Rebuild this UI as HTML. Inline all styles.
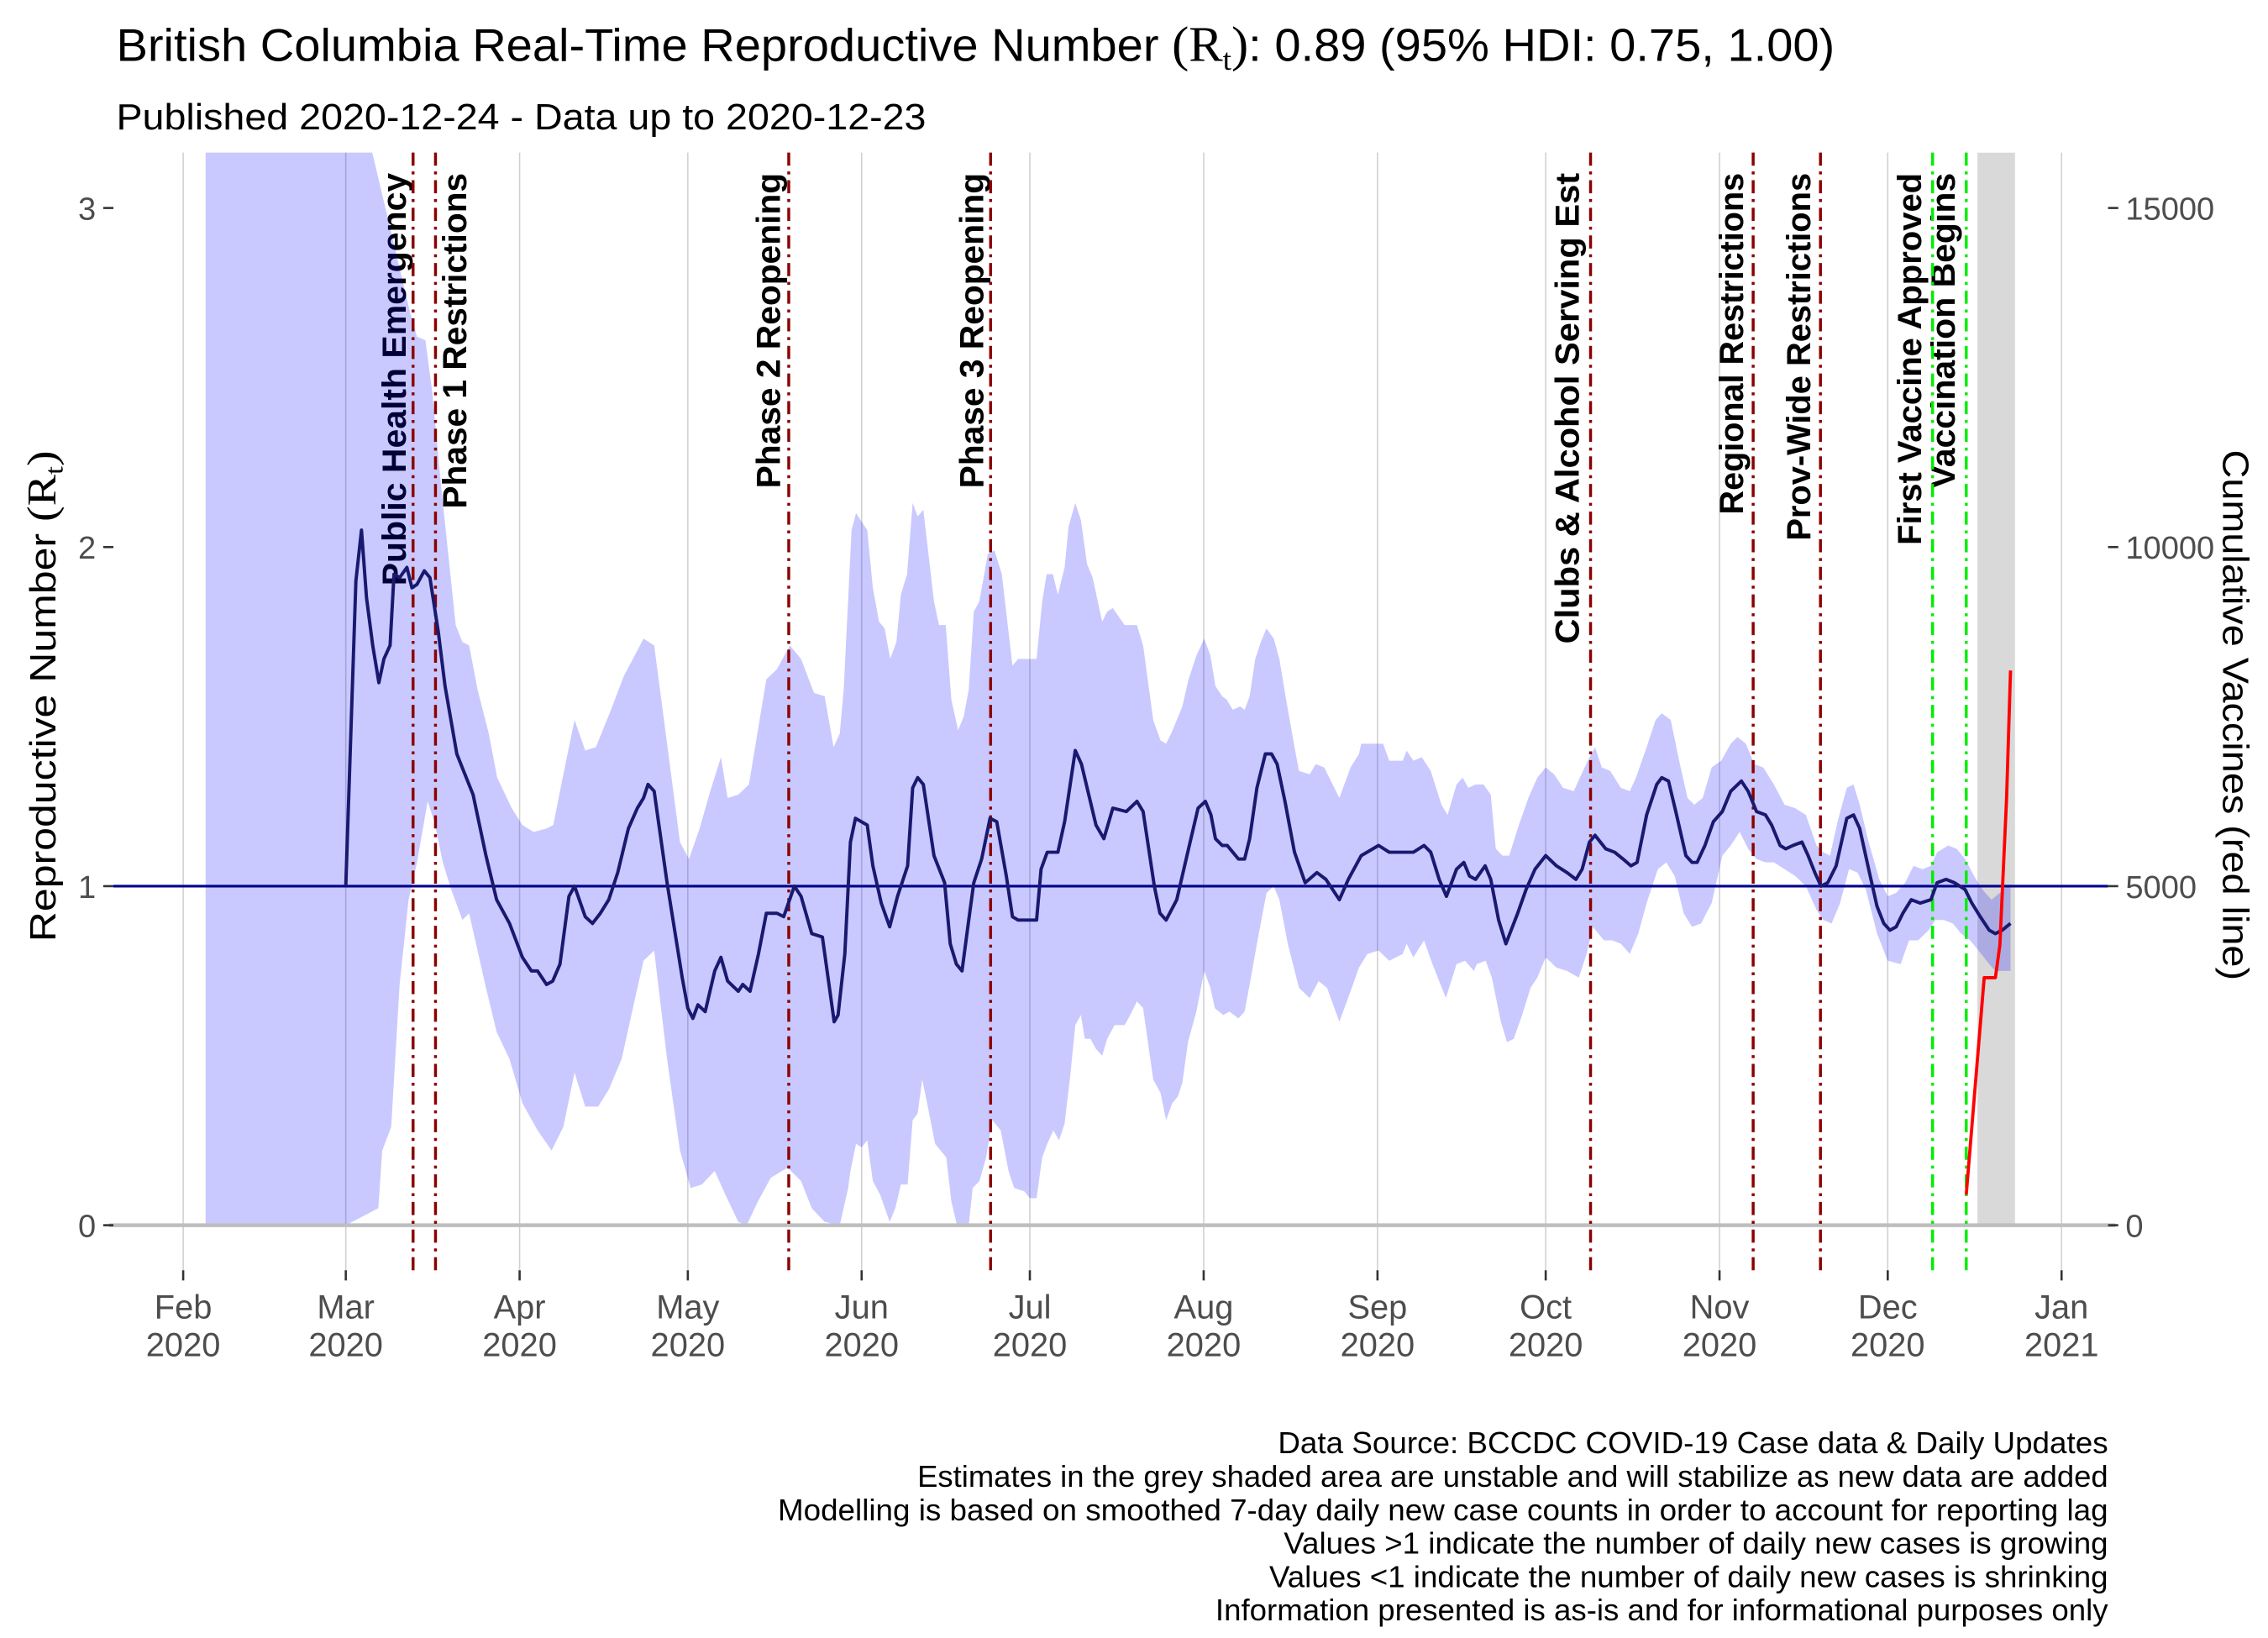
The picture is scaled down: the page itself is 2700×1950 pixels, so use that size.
<!DOCTYPE html>
<html><head><meta charset="utf-8"><style>
html,body{margin:0;padding:0;background:#fff;}
svg{display:block;}
text{font-family:"Liberation Sans",Arial,sans-serif;}
</style></head><body>
<svg id="chart" width="2700" height="1950" viewBox="0 0 1560 1127" preserveAspectRatio="none" xmlns="http://www.w3.org/2000/svg">
<defs><clipPath id="panel"><rect x="78" y="105" width="1372" height="770"/></clipPath></defs>
<rect x="0" y="0" width="1560" height="1127" fill="#fff"/>
<text x="80" y="42" font-size="31.5" fill="#000" textLength="1182" lengthAdjust="spacingAndGlyphs">British Columbia Real-Time Reproductive Number <tspan font-family="Liberation Serif,serif" font-size="34">(R<tspan font-size="21" dy="6">t</tspan><tspan dy="-6">)</tspan></tspan>:  0.89 (95% HDI: 0.75, 1.00)</text>
<text x="80" y="89" font-size="25" fill="#000" textLength="557" lengthAdjust="spacingAndGlyphs">Published 2020-12-24 - Data up to 2020-12-23</text>
<g id="grid"></g>
<g id="events-labels"></g>
<g id="plot" clip-path="url(#panel)"></g>
<g id="axes"></g>
<text transform="translate(38,479) rotate(-90)" text-anchor="middle" font-size="25" fill="#000" textLength="338" lengthAdjust="spacingAndGlyphs">Reproductive Number <tspan font-family="Liberation Serif,serif" font-size="28">(R<tspan font-size="18" dy="5">t</tspan><tspan dy="-5">)</tspan></tspan></text>
<text transform="translate(1529,492) rotate(90)" text-anchor="middle" font-size="25" fill="#000" textLength="365" lengthAdjust="spacingAndGlyphs">Cumulative Vaccines (red line)</text>
<g font-size="21" fill="#000" text-anchor="end">
<text x="1450" y="1000" textLength="571" lengthAdjust="spacingAndGlyphs">Data Source: BCCDC COVID-19 Case data &amp; Daily Updates</text>
<text x="1450" y="1023" textLength="819" lengthAdjust="spacingAndGlyphs">Estimates in the grey shaded area are unstable and will stabilize as new data are added</text>
<text x="1450" y="1046" textLength="915" lengthAdjust="spacingAndGlyphs">Modelling is based on smoothed 7-day daily new case counts in order to account for reporting lag</text>
<text x="1450" y="1069" textLength="567" lengthAdjust="spacingAndGlyphs">Values &gt;1 indicate the number of daily new cases is growing</text>
<text x="1450" y="1092" textLength="577" lengthAdjust="spacingAndGlyphs">Values &lt;1 indicate the number of daily new cases is shrinking</text>
<text x="1450" y="1115" textLength="614" lengthAdjust="spacingAndGlyphs">Information presented is as-is and for informational purposes only</text>
</g>
</svg>
<script>
// ---- data (day-of-year 2020, Jan 1 = 0) ----
const rtDays = [60,61.8,62.8,63.7,64.8,65.9,66.8,67.9,68.6,69.6,70.9,71.8,72.7,74,75,76.5,77.7,79.8,81,82.7,85,86.9,89.2,91.5,93.1,94.2,95.8,96.9,98.2,99.8,100.8,102.7,104,105.4,106.9,108.5,110.4,112,113.1,113.9,115,117.3,120,121,121.9,122.8,124.1,125.8,126.9,128.1,130,130.8,132.1,133.6,135,136.9,138.1,140,141.2,143.1,145,147.1,147.8,149,150,150.9,153,154,155.5,157,158.4,160.2,161.1,162,163,164.9,166.8,167.8,168.9,169.9,171.1,172,173.4,174.9,176.1,177.8,178.9,179.9,183.2,184,185.1,187,188.2,190.1,191.2,193.8,195.2,196.8,199.2,201.1,202.2,204.2,205.2,206.3,208.2,210.3,212,213.3,214.3,215.1,216.3,217.2,219.2,220.3,221.2,222.5,224,225.1,226.1,227.5,229.2,231.1,233.2,234.8,237.2,238.8,241.1,244.2,246.1,250.4,252.3,253.5,255,256.3,258.1,259.4,260.4,261.5,263.2,264.2,265.6,266.9,269,270.5,272.1,274,275.9,277.8,279.4,280.5,281.8,282.8,284.7,286.3,287.8,289.2,290.3,292,293.8,294.7,295.9,297.2,299,300.1,301,302.4,303.9,305.5,307,308.9,310.1,311.6,313.2,314.3,315.8,316.8,318.1,319.7,320.8,322,323.1,324.3,325.8,327.7,328.9,330,331.6,333.1,334.3,335.4,336.5,337.7,339.2,340.8,342.7,343.8,345.4,346.9,348.8,350,351.5,353.1,354.2,355.4,356.9];
const rtValues = [1.0,1.90,2.05,1.85,1.71,1.60,1.67,1.71,1.92,1.91,1.94,1.88,1.89,1.93,1.91,1.75,1.59,1.39,1.34,1.27,1.09,0.96,0.89,0.79,0.75,0.75,0.71,0.72,0.77,0.97,1.0,0.91,0.89,0.92,0.96,1.04,1.17,1.23,1.26,1.30,1.28,1.01,0.73,0.64,0.61,0.65,0.63,0.75,0.79,0.72,0.69,0.71,0.69,0.80,0.92,0.92,0.91,1.0,0.97,0.86,0.85,0.60,0.62,0.80,1.13,1.20,1.18,1.06,0.95,0.88,0.97,1.06,1.29,1.32,1.30,1.09,1.01,0.83,0.77,0.75,0.90,1.01,1.08,1.20,1.19,1.03,0.91,0.90,0.90,1.05,1.10,1.10,1.19,1.40,1.36,1.18,1.14,1.23,1.22,1.25,1.22,1.0,0.92,0.90,0.96,1.11,1.23,1.25,1.21,1.14,1.12,1.12,1.08,1.08,1.14,1.29,1.39,1.39,1.36,1.25,1.10,1.01,1.04,1.02,0.96,1.02,1.09,1.12,1.10,1.10,1.12,1.10,1.02,0.97,1.05,1.07,1.03,1.02,1.06,1.02,0.90,0.83,0.92,0.99,1.05,1.09,1.06,1.04,1.02,1.05,1.13,1.15,1.11,1.10,1.08,1.06,1.07,1.21,1.30,1.32,1.31,1.22,1.09,1.07,1.07,1.12,1.19,1.22,1.28,1.31,1.28,1.22,1.21,1.18,1.12,1.11,1.12,1.13,1.09,1.04,1.0,1.01,1.06,1.20,1.21,1.17,1.05,0.94,0.89,0.87,0.88,0.92,0.96,0.95,0.96,1.01,1.02,1.01,0.99,0.95,0.91,0.87,0.86,0.87,0.89];
const upperDays = [35,64,64.2,71.5,72.7,74.2,75.4,77,79.6,80.8,82,83.5,85.5,87,89.6,91.5,93.5,95.8,97,98.8,100.8,102.7,104.6,107.3,109.6,111.2,113.1,115,117.7,119.6,121.2,123.1,125,126.9,128.1,130,131.9,133.5,135,136.9,139.2,141.2,143.5,145.4,147,148.1,148.8,150.2,151,153,154,155.1,156.1,157.1,158.2,159,160.1,161.1,162,163,164.9,165.8,167,168,169.2,170.2,171.1,172,173,174.5,175.7,177,178.9,179.9,183.2,184.2,185,186.1,187,188.2,188.9,190.1,191.1,192.2,193.2,194.9,195.8,196.8,198.9,201.1,202.2,204,205.3,206.3,207.2,209.2,210.3,211.7,213.1,214.2,215.1,216.3,217.1,218.2,219.5,220.3,221.2,222.2,223.2,224.2,225.5,226.5,227.6,229.2,230,231.9,233,234.5,235.7,237.2,239.2,240.7,241.1,243.4,245,246.1,248.5,249.2,250.4,251.9,253.5,255.4,256.5,258.1,259.2,260.2,261.5,262.9,264.2,265.1,266.3,267.5,269,270.9,272.5,274,275.5,277.1,279,280.1,281.5,282.8,284,285.5,287.4,289,290.1,292,293.6,294.7,296.3,297.8,299.3,300.5,302,303.6,305.3,307,308.2,309.7,311.2,312.8,314.7,316.6,318.5,320.4,322.3,323.5,324.7,326.2,327.7,328.9,330,331.6,333.5,335,336.5,338.1,339.6,341.2,342.7,343.8,345.8,347.3,348.8,350.4,351.9,353.5,355,356.2,356.9];
const upperValues = [3.5,3.5,3.2,2.69,2.62,2.61,2.46,2.18,1.77,1.72,1.71,1.58,1.45,1.32,1.23,1.18,1.16,1.17,1.18,1.33,1.49,1.40,1.41,1.52,1.62,1.67,1.73,1.71,1.37,1.13,1.08,1.17,1.28,1.38,1.26,1.27,1.30,1.46,1.61,1.64,1.71,1.67,1.57,1.56,1.41,1.45,1.58,2.05,2.10,2.05,1.88,1.78,1.76,1.67,1.72,1.86,1.92,2.13,2.09,2.11,1.84,1.77,1.77,1.55,1.46,1.50,1.58,1.81,1.84,1.98,1.99,1.92,1.65,1.67,1.67,1.84,1.92,1.92,1.86,1.94,2.06,2.13,2.08,1.95,1.91,1.78,1.81,1.82,1.77,1.77,1.71,1.49,1.43,1.42,1.45,1.53,1.61,1.68,1.73,1.68,1.59,1.56,1.55,1.52,1.53,1.52,1.56,1.67,1.72,1.76,1.73,1.67,1.56,1.41,1.34,1.33,1.36,1.35,1.31,1.26,1.35,1.39,1.42,1.42,1.42,1.37,1.37,1.40,1.37,1.38,1.34,1.24,1.21,1.30,1.32,1.29,1.30,1.30,1.27,1.11,1.09,1.09,1.17,1.26,1.32,1.35,1.33,1.29,1.28,1.32,1.37,1.41,1.35,1.34,1.29,1.28,1.32,1.41,1.49,1.51,1.49,1.37,1.26,1.24,1.26,1.35,1.37,1.42,1.44,1.42,1.36,1.35,1.30,1.24,1.23,1.21,1.12,1.10,1.09,1.20,1.29,1.30,1.24,1.13,1.02,0.97,0.98,1.01,1.06,1.05,1.06,1.10,1.12,1.11,1.08,1.03,0.99,0.96,0.98,1.0,1.0];
const lowerDays = [35,60,65.8,66.5,68.1,69.6,71.2,72.7,74.6,75.8,77.3,78.8,80.8,82,83.5,85,86.9,89.2,91.5,94.2,96.7,98.8,100.8,102.7,105,106.9,109.2,111.2,113.1,115,117.3,119.6,121.5,123.5,125.8,127.7,130,131.5,133.5,135.8,138.8,141.2,143.1,145.4,148.1,149.6,150,151,152,153,154,155.3,157,158,159,160.2,161.1,162,162.8,163.8,165.1,167.1,168,169,171.1,171.8,173,174.2,175.3,176.8,178.2,179.2,181,182,183.2,184.2,185.1,186.2,187.2,188.2,189.2,190.1,191.1,191.8,192.8,193.8,194.9,195.8,197.1,198.9,199.9,201.1,202.2,204,205.3,206.3,207.4,208.4,209.2,210.2,211.7,213.1,214.2,215,216.5,217.6,219.2,220.3,221.2,222.5,224.2,225.5,226.5,228,230,231.9,233.5,235,237.2,239.2,240.7,242.2,244.2,246.1,248.5,249.2,250.4,252.3,253.8,256.2,258.1,259.6,261.2,261.7,263.3,264.4,266,267.1,268.3,269.8,271.3,272.5,274,275.9,277.8,279.9,281.3,282.4,284.4,285.9,287.4,289,290.5,292,294,295.5,297,298.6,300.1,301.7,303.6,305.5,307,308.6,310.1,311.6,313.2,314.7,316.6,318.5,320.4,322.3,323.5,325,326.5,328.1,329.6,331.1,333.1,335,337.3,338.8,340.4,342.3,343.5,345,346.6,348.1,349.7,351.2,353.1,354.2,355.8,356.9];
const lowerValues = [0,0,0.05,0.22,0.29,0.71,0.96,1.07,1.25,1.19,1.07,0.99,0.90,0.92,0.81,0.70,0.57,0.49,0.36,0.28,0.22,0.29,0.45,0.35,0.35,0.40,0.49,0.64,0.78,0.81,0.49,0.22,0.11,0.12,0.16,0.09,0.01,0,0.07,0.14,0.17,0.13,0.05,0.01,0,0.11,0.16,0.24,0.23,0.25,0.13,0.09,0.01,0.05,0.12,0.12,0.31,0.33,0.43,0.35,0.24,0.20,0.07,0,0,0.11,0.13,0.20,0.31,0.28,0.16,0.11,0.10,0.08,0.08,0.20,0.24,0.28,0.25,0.30,0.44,0.59,0.62,0.55,0.55,0.52,0.50,0.55,0.59,0.59,0.62,0.66,0.64,0.43,0.39,0.31,0.36,0.38,0.42,0.54,0.63,0.75,0.70,0.64,0.62,0.63,0.61,0.63,0.71,0.83,0.98,1.0,0.96,0.83,0.70,0.67,0.72,0.70,0.60,0.69,0.76,0.80,0.81,0.78,0.80,0.83,0.79,0.84,0.77,0.67,0.77,0.78,0.75,0.77,0.78,0.73,0.60,0.54,0.55,0.62,0.70,0.73,0.79,0.76,0.75,0.73,0.80,0.88,0.84,0.84,0.83,0.80,0.86,0.95,1.05,1.07,1.03,0.92,0.88,0.89,0.95,1.09,1.12,1.16,1.11,1.08,1.07,1.07,1.05,1.03,1.0,0.93,0.90,0.89,0.95,1.05,1.04,0.99,0.86,0.78,0.77,0.84,0.84,0.87,0.90,0.90,0.89,0.86,0.84,0.81,0.77,0.75,0.75,0.75];
const vacDays = [349,352.2,354.2,355,356.2,356.9];
const vacValues = [450,3650,3650,4130,6300,8180];
const eventNames = ["Public Health Emergency","Phase 1 Restrictions","Phase 2 Reopening","Phase 3 Reopening","Clubs & Alcohol Serving Est","Regional Restrictions","Prov-Wide Restrictions","First Vaccine Approved","Vaccination Begins"];
const eventDays = [72,76,139,175,282,311,323,343,349];
const eventKinds = ["policy","policy","policy","policy","policy","policy","policy","vaccine","vaccine"];
const monthNames = ["Feb","Mar","Apr","May","Jun","Jul","Aug","Sep","Oct","Nov","Dec","Jan"];
const monthYears = ["2020","2020","2020","2020","2020","2020","2020","2020","2020","2020","2020","2021"];
const monthDays = [31,60,91,121,152,182,213,244,274,305,335,366];
const yTicks = [0,1,2,3];
const y2Ticks = [0,5000,10000,15000];
const greyStart = 351, greyEnd = 357.7, bandStart = 35;

// ---- scales ----
const X = d => 126 + (d - 31) * (1418 - 126) / 335;
const Y = v => 843 - 233.3 * v;
const Y2 = v => 843 - 233.3 * v / 5000;
const NS = "http://www.w3.org/2000/svg";
function mk(tag, attrs, parent){const e=document.createElementNS(NS,tag);for(const k in attrs)e.setAttribute(k,attrs[k]);parent.appendChild(e);return e;}
const grid=document.getElementById('grid'), plot=document.getElementById('plot'), axes=document.getElementById('axes'), evl=document.getElementById('events-labels');

monthDays.forEach((d,i)=>{
  const l=mk('line',{x1:X(d),x2:X(d),y1:105,y2:874,stroke:'#d0d0d0','stroke-width':0.9},grid);
  
  
});

const labelOffsets=[-5,21,-6,-5,-8,-7,-7,-8,-8];
const labelLengths=[284,231,217,217,324,235,253,256,217];
eventNames.forEach((n,i)=>{
  const x=X(eventDays[i])+labelOffsets[i];
  const t=mk('text',{transform:`translate(${x},119) rotate(-90)`,'text-anchor':'end','font-size':23,'font-weight':'bold',fill:'#000',textLength:labelLengths[i],lengthAdjust:'spacingAndGlyphs'},evl);
  t.textContent=n;
  
  
});

const gr=mk('rect',{x:X(greyStart),y:105,width:X(greyEnd)-X(greyStart),height:Y(0)-105,fill:'#d9d9d9'},plot);



let pts=[];
upperDays.forEach((d,i)=>pts.push(X(d).toFixed(2)+','+Y(upperValues[i]).toFixed(2)));
for(let i=lowerDays.length-1;i>=0;i--)pts.push(X(lowerDays[i]).toFixed(2)+','+Y(lowerValues[i]).toFixed(2));
const band=mk('polygon',{points:pts.join(' '),fill:'rgba(0,0,255,0.21)'},plot);



const zl=mk('line',{x1:75,x2:1455,y1:Y(0),y2:Y(0),stroke:'#bebebe','stroke-width':2.6},axes);



const ref=mk('line',{x1:78,x2:1450,y1:Y(1),y2:Y(1),stroke:'#00008b','stroke-width':1.8},plot);



eventDays.forEach((d,i)=>{
  const c=eventKinds[i]==='vaccine'?'#00ee00':'#8b0000';
  const l=mk('line',{x1:X(d),x2:X(d),y1:105,y2:874,stroke:c,'stroke-width':2,'stroke-dasharray':'9 4 2 4'},axes);
  
  
});

const rtPath=rtDays.map((d,i)=>(i?'L':'M')+X(d).toFixed(2)+','+Y(rtValues[i]).toFixed(2)).join('');
const rl=mk('path',{d:'M'+X(rtDays[0]).toFixed(2)+','+Y(1).toFixed(2)+rtPath.replace(/^M/,'L'),fill:'none',stroke:'#191970','stroke-width':2.3,'stroke-linejoin':'round'},axes);



const vp=vacDays.map((d,i)=>(i?'L':'M')+X(d).toFixed(2)+','+Y2(vacValues[i]).toFixed(2)).join('');
const vl=mk('path',{d:vp,fill:'none',stroke:'#ff0000','stroke-width':2.2,'stroke-linejoin':'round'},axes);



yTicks.forEach(v=>{
  const tk=mk('line',{x1:71,x2:78,y1:Y(v),y2:Y(v),stroke:'#333','stroke-width':1.5},axes);
  
  
  const t=mk('text',{x:66,y:Y(v)+8,'text-anchor':'end','font-size':22,fill:'#4d4d4d'},axes);
  t.textContent=v;
  
  
});
y2Ticks.forEach(v=>{
  const tk=mk('line',{x1:1450,x2:1457,y1:Y2(v),y2:Y2(v),stroke:'#333','stroke-width':1.5},axes);
  
  
  const t=mk('text',{x:1462,y:Y2(v)+8,'font-size':22,fill:'#4d4d4d'},axes);
  t.textContent=v;
  
  
});
monthDays.forEach((d,i)=>{
  const tk=mk('line',{x1:X(d),x2:X(d),y1:874,y2:881,stroke:'#333','stroke-width':1.5},axes);
  
  
  const t=mk('text',{x:X(d),y:907,'text-anchor':'middle','font-size':23,fill:'#4d4d4d'},axes);
  t.textContent=monthNames[i];
  
  
  const t2=mk('text',{x:X(d),y:933,'text-anchor':'middle','font-size':23,fill:'#4d4d4d'},axes);
  t2.textContent=monthYears[i];
  
  
});
</script>
</body></html>
